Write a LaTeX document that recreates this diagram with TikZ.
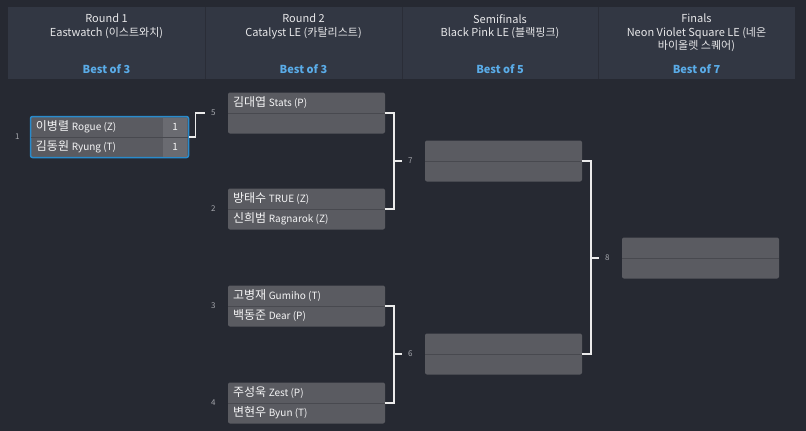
\documentclass[tikz,border=0pt]{standalone}
\usepackage{fontspec}
\setmainfont{Noto Sans CJK KR}
\usepackage{tikz}
\usetikzlibrary{positioning, calc}
\definecolor{pageDark}{RGB}{38, 41, 50}
\definecolor{headBand}{RGB}{50, 55, 67}
\definecolor{slotGray}{RGB}{90, 91, 97}
\definecolor{rowGray}{RGB}{72, 73, 79}
\definecolor{scoreGray}{RGB}{106, 107, 113}
\definecolor{liveBlue}{RGB}{41, 139, 204}
\definecolor{bestBlue}{RGB}{90, 172, 232}
\definecolor{seedGray}{RGB}{165, 167, 173}
\newcommand{\plr}[2]{#1 {\fontsize{10}{10}\selectfont #2}}

\begin{document}
\begin{tikzpicture}[
        x=1pt, y=-1pt,
        headtext/.style={
            align=center,
            anchor=north,
            inner sep=0,
            text=white!88!headBand,
            font=\fontsize{11}{13.5}\selectfont
        },
        bestof/.style={
            inner sep=0,
            text=bestBlue,
            font=\bfseries\fontsize{11}{11}\selectfont
        },
        match/.style={
            rectangle,
            rounded corners=2pt,
            fill=slotGray,
            minimum width=157pt,
            minimum height=41pt,
            inner sep=0
        },
        live/.style={
            match,
            draw=liveBlue,
            line width=1.5pt,
            minimum width=158pt
        },
        player/.style={
            anchor=west,
            inner sep=0,
            text=white!94!slotGray,
            font=\fontsize{12}{12}\selectfont
        },
        score/.style={
            rectangle,
            fill=scoreGray,
            minimum width=24pt,
            minimum height=19pt,
            inner sep=0,
            text=white!92!scoreGray,
            font=\fontsize{10}{10}\selectfont
        },
        seed/.style={
            inner sep=0,
            text=seedGray,
            font=\fontsize{8}{8}\selectfont
        },
        rowline/.style={
            draw=rowGray,
            line width=1pt
        },
        wire/.style={
            draw=white!92!black,
            line width=1.5pt
        }
    ]

    \fill[pageDark] (0,0) rectangle (806,431);
    \useasboundingbox (0,0) rectangle (806,431);

    % round headers
    \fill[headBand] (8,7) rectangle (795,79);
    \foreach \x in {205, 402, 598}
        \draw[pageDark!70!headBand, line width=1pt] (\x,7) -- (\x,79);

    \node[headtext] (t1) at (106.5,14) {Round 1\\Eastwatch (이스트와치)};
    \node[headtext] (t2) at (303.5,14) {Round 2\\Catalyst LE (카탈리스트)};
    \node[headtext] (t3) at (500,14) {Semifinals\\Black Pink LE (블랙핑크)};
    \node[headtext] (t4) at (696.5,14) {Finals\\Neon Violet Square LE (네온\\바이올렛 스퀘어)};

    \node[bestof] (b1) at (106.5,69) {Best of 3};
    \node[bestof] (b2) at (303.5,69) {Best of 3};
    \node[bestof] (b3) at (500,69) {Best of 5};
    \node[bestof] (b4) at (696.5,69) {Best of 7};

    % matches
    \node[live] (m1) at (109.5,137) {};
    \node[match] (m5) at (306.5,113) {};
    \node[match] (m2) at (306.5,209) {};
    \node[match] (m3) at (306.5,306) {};
    \node[match] (m4) at (306.5,403) {};
    \node[match] (m7) at (503.5,161) {};
    \node[match] (m6) at (503.5,354) {};
    \node[match] (m8) at (700.5,258) {};

    \node[score] (s1a) at ([xshift=-14pt, yshift=10pt]m1.east) {1};
    \node[score] (s1b) at ([xshift=-14pt, yshift=-10pt]m1.east) {1};
    \draw[rowline] ([xshift=1pt]m1.west) -- ([xshift=-1pt]m1.east);
    \foreach \m in {m5, m2, m3, m4, m7, m6, m8}
        \draw[rowline] (\m.west) -- (\m.east);

    \node[player] (p1a) at ([xshift=6pt, yshift=10pt]m1.west) {\plr{이병렬}{Rogue (Z)}};
    \node[player] (p1b) at ([xshift=6pt, yshift=-10pt]m1.west) {\plr{김동원}{Ryung (T)}};
    \node[player] (p5a) at ([xshift=5pt, yshift=10pt]m5.west) {\plr{김대엽}{Stats (P)}};
    \node[player] (p2a) at ([xshift=5pt, yshift=10pt]m2.west) {\plr{방태수}{TRUE (Z)}};
    \node[player] (p2b) at ([xshift=5pt, yshift=-10pt]m2.west) {\plr{신희범}{Ragnarok (Z)}};
    \node[player] (p3a) at ([xshift=5pt, yshift=10pt]m3.west) {\plr{고병재}{Gumiho (T)}};
    \node[player] (p3b) at ([xshift=5pt, yshift=-10pt]m3.west) {\plr{백동준}{Dear (P)}};
    \node[player] (p4a) at ([xshift=5pt, yshift=10pt]m4.west) {\plr{주성욱}{Zest (P)}};
    \node[player] (p4b) at ([xshift=5pt, yshift=-10pt]m4.west) {\plr{변현우}{Byun (T)}};

    % match numbers
    \node[seed, left=10pt of m1] (n1) {1};
    \node[seed, left=12pt of m5] (n5) {5};
    \node[seed, left=12pt of m2] (n2) {2};
    \node[seed, left=12pt of m3] (n3) {3};
    \node[seed, left=12pt of m4] (n4) {4};
    \node[seed, left=12pt of m7] (n7) {7};
    \node[seed, left=12pt of m6] (n6) {6};
    \node[seed, left=12pt of m8] (n8) {8};

    % bracket lines
    \coordinate[left=23pt of m5] (j5);
    \coordinate[left=23pt of m7] (j7);
    \coordinate[left=23pt of m6] (j6);
    \coordinate[left=23pt of m8] (j8);

    \draw[wire] (m1.east) -- ++(6pt,0) |- (j5);
    \draw[wire] (m5.east) -- ++(9pt,0) |- (j7);
    \draw[wire] (m2.east) -- ++(9pt,0) |- (j7);
    \draw[wire] (m3.east) -- ++(9pt,0) |- (j6);
    \draw[wire] (m4.east) -- ++(9pt,0) |- (j6);
    \draw[wire] (m7.east) -- ++(9pt,0) |- (j8);
    \draw[wire] (m6.east) -- ++(9pt,0) |- (j8);

\end{tikzpicture}
\end{document}
